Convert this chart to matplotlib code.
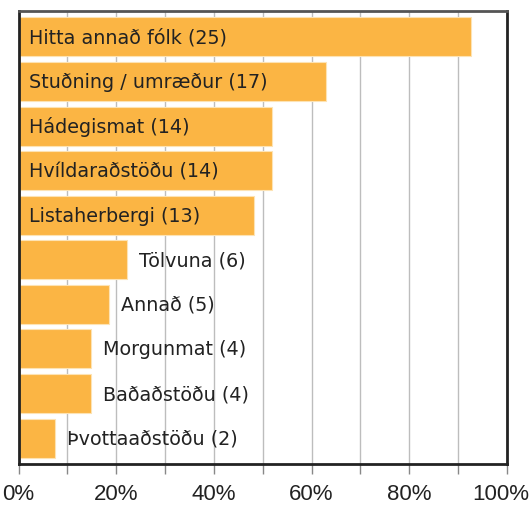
import matplotlib
matplotlib.use("Agg")
import matplotlib.pyplot as plt
import matplotlib.transforms as mtransforms
import numpy as np

labels = ["Hitta annað fólk", "Stuðning / umræður", "Hádegismat", "Hvíldaraðstöðu",
          "Listaherbergi", "Tölvuna", "Annað", "Morgunmat", "Baðaðstöðu", "Þvottaaðstöðu"]
counts = [25, 17, 14, 14, 13, 6, 5, 4, 4, 2]
total = 27
pct = [c / total * 100 for c in counts]
xticks = list(range(0, 101, 10))
xticklabels = [f"{t}%" if t % 20 == 0 else "" for t in xticks]

fig = plt.figure(figsize=(5.29, 5.06), dpi=100)
ax = fig.add_axes([18.5 / 529, 41 / 506, 488.5 / 529, 453 / 506])

y = np.arange(len(labels))
ax.barh(y, pct, height=0.875, color="#fbb544", edgecolor="#fde3b4", linewidth=0.8, zorder=2)
ax.set_ylim(len(labels) - 0.42, -0.58)
ax.set_xlim(0, 100)

for i, (lab, c, p) in enumerate(zip(labels, counts, pct)):
    txt = f"{lab} ({c})"
    x0 = 2.2 if c >= 13 else p + 2.5
    ax.text(x0, i, txt, va="center", ha="left", fontsize=13.8, color="#222222",
            family="DejaVu Sans", zorder=3)

ax.set_xticks(xticks)
ax.set_xticklabels(xticklabels, fontsize=16, color="#222222",
                   family=["Liberation Sans Narrow", "Liberation Sans"])
ax.set_yticks([])
ax.tick_params(axis="x", length=7.5, width=1, color="#888888", pad=6)
# keep "100%" inside the figure, like the original
last = ax.get_xticklabels()[-1]
last.set_transform(last.get_transform() +
                   mtransforms.ScaledTranslation(-6 / 100, 0, fig.dpi_scale_trans))
ax.grid(axis="x", color="#bdbdbd", linewidth=1, zorder=0)
ax.set_axisbelow(True)
for s in ["left", "bottom", "right"]:
    ax.spines[s].set_linewidth(2)
    ax.spines[s].set_color("#222222")
ax.spines["top"].set_linewidth(2)
ax.spines["top"].set_color("#555555")

fig.savefig("out.png", dpi=100)
